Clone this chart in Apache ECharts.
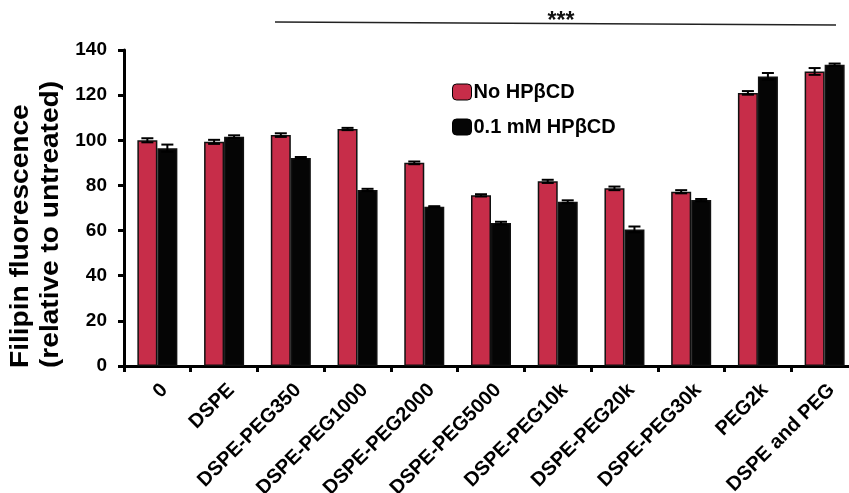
<!DOCTYPE html>
<html>
<head>
<meta charset="utf-8">
<script src="https://cdn.jsdelivr.net/npm/echarts@6/dist/echarts.min.js"></script>
<style>
  html, body { margin: 0; padding: 0; background: #fff; }
  #chart { width: 849px; height: 493px; }
</style>
</head>
<body>
<div id="chart"></div>
<script>
// categories and values
const categories = ['0', 'DSPE', 'DSPE-PEG350', 'DSPE-PEG1000', 'DSPE-PEG2000', 'DSPE-PEG5000',
  'DSPE-PEG10k', 'DSPE-PEG20k', 'DSPE-PEG30k', 'PEG2k', 'DSPE and PEG'];
const noCD = [100, 99.3, 102.3, 105, 90, 75.6, 81.8, 78.7, 77.2, 121, 130.5];
const noCDErr = [0.9, 0.9, 0.8, 0.5, 0.6, 0.5, 0.7, 0.8, 0.7, 0.8, 1.5];
const withCD = [96.5, 101.6, 92.2, 78, 70.5, 63.3, 72.8, 60.5, 73.5, 128.3, 133.5];
const withCDErr = [1.6, 0.6, 0.4, 0.5, 0.3, 0.6, 0.6, 1.3, 0.5, 1.5, 0.5];
const yTicks = [0, 20, 40, 60, 80, 100, 120, 140];

const font = "'Liberation Sans', Arial, sans-serif";
const red = '#c72d49';

const myChart = echarts.init(document.getElementById('chart'));

// error bar data: [category index, mean, sd]
const errData = (vals, errs) => vals.map((v, i) => [i, v, errs[i]]);

const errBar = (side) => (params, api) => {
  const i = api.value(0), v = api.value(1), e = api.value(2);
  const dx = side * 10;
  const top = api.coord([i, v + e]);
  const bot = api.coord([i, v - e]);
  const x = top[0] + dx;
  const cap = 6;
  const style = { stroke: '#000', lineWidth: 2 };
  return {
    type: 'group',
    children: [
      { type: 'line', shape: { x1: x, y1: top[1], x2: x, y2: bot[1] }, style },
      { type: 'line', shape: { x1: x - cap, y1: top[1], x2: x + cap, y2: top[1] }, style },
      { type: 'line', shape: { x1: x - cap, y1: bot[1], x2: x + cap, y2: bot[1] }, style }
    ]
  };
};

const option = {
  animation: false,
  textStyle: { fontFamily: font },
  grid: { left: 124, top: 50, width: 734, bottom: 127, outerBoundsMode: 'none', containLabel: false },
  legend: {
    orient: 'vertical',
    left: 452,
    top: 82,
    padding: 0,
    itemWidth: 19,
    itemHeight: 16,
    itemGap: 15,
    data: ['No HPβCD', '0.1 mM HPβCD'],
    textStyle: { fontFamily: font, fontSize: 20, fontWeight: 'bold', color: '#000', padding: [0, 0, 0, -3] },
    itemStyle: { borderColor: '#000', borderWidth: 1 }
  },
  xAxis: {
    type: 'category',
    data: categories,
    axisLine: { lineStyle: { color: '#000', width: 3 } },
    axisTick: { show: true, length: 6, lineStyle: { color: '#000', width: 3 } },
    axisLabel: {
      rotate: 45, interval: 0, margin: 14, verticalAlign: 'top',
      color: '#000', fontSize: 20, fontWeight: 'bold', fontFamily: font
    }
  },
  yAxis: {
    type: 'value',
    min: 0,
    max: 140,
    interval: 20,
    splitLine: { show: false },
    axisLine: { show: true, lineStyle: { color: '#000', width: 3 } },
    axisTick: { show: true, length: 6, lineStyle: { color: '#000', width: 3 } },
    axisLabel: {
      margin: 17, color: '#000', fontSize: 19, fontWeight: 'bold', fontFamily: font,
      formatter: (v) => yTicks.includes(v) ? String(v) : ''
    }
  },
  series: [
    {
      name: 'No HPβCD',
      type: 'bar',
      data: noCD,
      barWidth: 20,
      barGap: '0%',
      itemStyle: { color: red, borderColor: '#111', borderWidth: 1.5 }
    },
    {
      name: '0.1 mM HPβCD',
      type: 'bar',
      data: withCD,
      barWidth: 20,
      barGap: '0%',
      itemStyle: { color: '#050505', borderColor: '#111', borderWidth: 1.5 }
    },
    {
      type: 'custom',
      renderItem: errBar(-1),
      data: errData(noCD, noCDErr),
      encode: { x: 0, y: 1 },
      z: 5
    },
    {
      type: 'custom',
      renderItem: errBar(1),
      data: errData(withCD, withCDErr),
      encode: { x: 0, y: 1 },
      z: 5
    }
  ],
  graphic: [
    // y axis title, left-aligned from the bottom like the original
    {
      type: 'text', x: 6, y: 368, rotation: Math.PI / 2, scaleX: 1.08,
      style: {
        text: 'Filipin fluorescence\n(relative to untreated)',
        fontSize: 26, fontWeight: 'bold', fontFamily: font, fill: '#000',
        lineHeight: 30, textAlign: 'left', textVerticalAlign: 'top'
      }
    },
    { type: 'line', shape: { x1: 275, y1: 22, x2: 836, y2: 25 }, style: { stroke: '#222', lineWidth: 1.5 } },
    { type: 'text', x: 561, y: 33, style: { text: '***', fontSize: 23, fontWeight: 'bold', fontFamily: font, fill: '#111', textAlign: 'center', textVerticalAlign: 'bottom' } }
  ]
};

myChart.setOption(option);
</script>
</body>
</html>
